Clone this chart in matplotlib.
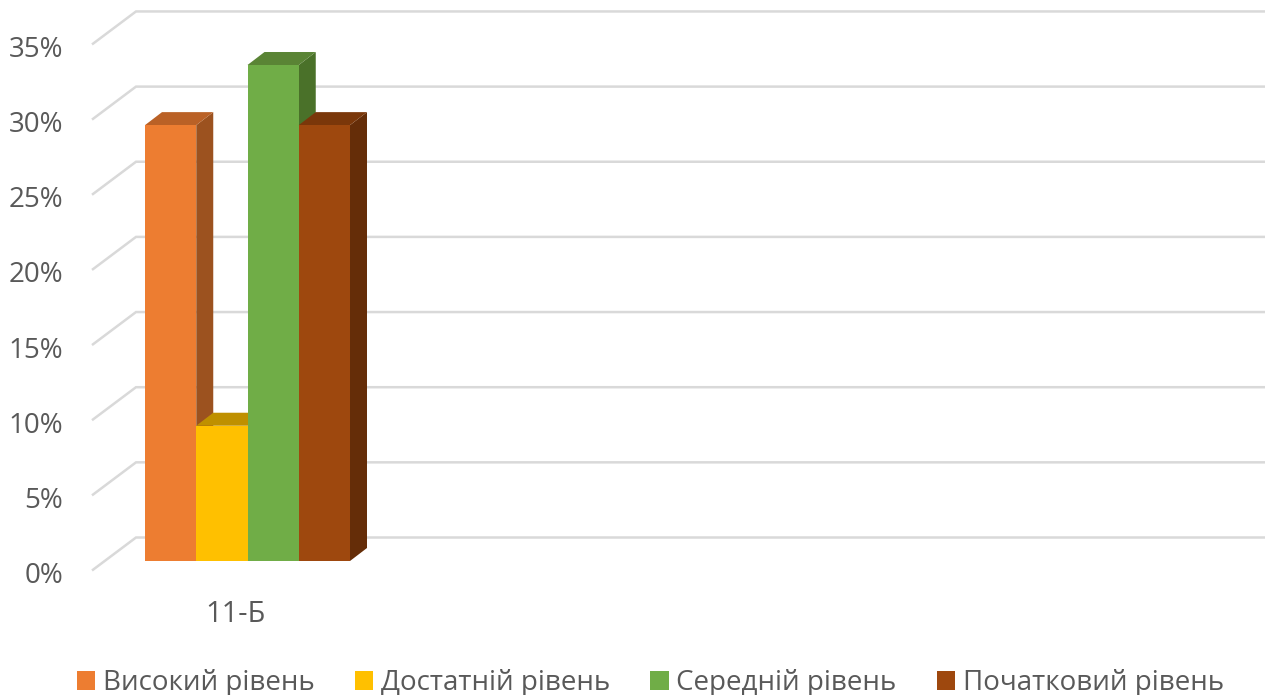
import matplotlib
matplotlib.use("Agg")
import matplotlib.pyplot as plt
from matplotlib.patches import Patch, Polygon

categories = ["11-Б"]
series_names = ["Високий рівень", "Достатній рівень", "Середній рівень", "Початковий рівень"]
values = [29, 9, 33, 29]
yticks = [0, 5, 10, 15, 20, 25, 30, 35]
front_colors = ["#ED7D31", "#FFC000", "#70AD47", "#9E480E"]
top_colors = ["#BA6126", "#BF9000", "#5A8435", "#7A370A"]
side_colors = ["#9C521F", "#A67D00", "#4A7129", "#652D08"]

W, H = 1273, 695
PX_PER_UNIT = 15.03
Y0 = 561
fig = plt.figure(figsize=(W / 100, H / 100), dpi=100)
ax = fig.add_axes([0, 0, 1, 1])
ax.set_xlim(0, W)
ax.set_ylim((Y0 - H) / PX_PER_UNIT, Y0 / PX_PER_UNIT)
ax.axis("off")

plt.rcParams["font.family"] = ["Open Sans", "DejaVu Sans"]
TEXT = "#595959"
FS = 20

# back-wall gridlines with floor/side slant
for t in yticks:
    back = t + 23.5 / PX_PER_UNIT
    front = t - 9.5 / PX_PER_UNIT
    ax.plot([92, 136, 1265], [front, back, back], color="#D9D9D9", lw=1.8, zorder=1,
            solid_capstyle="butt", solid_joinstyle="miter")
    ax.text(63, t - 15 / PX_PER_UNIT, f"{t}%", ha="right", va="center", color=TEXT, fontsize=FS)

# bars as boxes
x0, bw = 145, 51.25
dx, dy = 17, 13 / PX_PER_UNIT
for i, v in enumerate(values):
    l, r = x0 + i * bw, x0 + (i + 1) * bw
    ax.add_patch(Polygon([(r, 0), (r + dx, dy), (r + dx, v + dy), (r, v)], closed=True,
                         fc=side_colors[i], ec="none", zorder=2 + i))
    ax.add_patch(Polygon([(l, v), (l + dx, v + dy), (r + dx, v + dy), (r, v)], closed=True,
                         fc=top_colors[i], ec="none", zorder=2 + i))
    ax.add_patch(Polygon([(l, 0), (r, 0), (r, v), (l, v)], closed=True,
                         fc=front_colors[i], ec="none", zorder=2 + i))

ax.text(x0 + 2 * bw - 12.5, -54 / PX_PER_UNIT, categories[0], ha="center", va="center",
        color=TEXT, fontsize=FS + 1)

handles = [Patch(fc=c, ec="none", label=n) for c, n in zip(front_colors, series_names)]
leg = ax.legend(handles=handles, ncols=4, loc="center", frameon=False,
                bbox_to_anchor=(650.5 / W, 1 - 683 / H), fontsize=FS, labelcolor=TEXT,
                handlelength=0.65, handleheight=0.65, handletextpad=0.28, columnspacing=1.45,
                borderpad=0, borderaxespad=0)

fig.savefig("out.png", dpi=100)
